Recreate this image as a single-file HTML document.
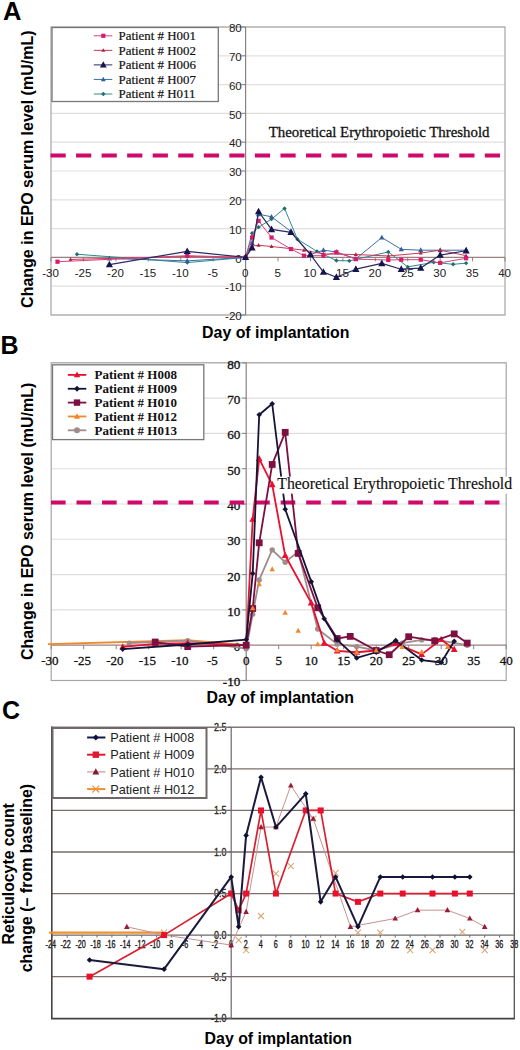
<!DOCTYPE html><html><head><meta charset="utf-8"><style>
html,body{margin:0;padding:0;background:#fff;}body{width:520px;height:1050px;overflow:hidden;}
svg{display:block;}
.sb{font-family:"Liberation Sans",sans-serif;font-weight:bold;}
.s{font-family:"Liberation Sans",sans-serif;}
.r{font-family:"Liberation Serif",serif;}
</style></head><body>
<svg width="520" height="1050" viewBox="0 0 520 1050">
<rect width="520" height="1050" fill="#fff"/>
<line x1="51" y1="315" x2="505" y2="315" stroke="#e4dfdf" stroke-width="1.2"/>
<line x1="51" y1="286.2" x2="505" y2="286.2" stroke="#e4dfdf" stroke-width="1.2"/>
<line x1="51" y1="228.6" x2="505" y2="228.6" stroke="#e4dfdf" stroke-width="1.2"/>
<line x1="51" y1="199.8" x2="505" y2="199.8" stroke="#e4dfdf" stroke-width="1.2"/>
<line x1="51" y1="171" x2="505" y2="171" stroke="#e4dfdf" stroke-width="1.2"/>
<line x1="51" y1="142.2" x2="505" y2="142.2" stroke="#e4dfdf" stroke-width="1.2"/>
<line x1="51" y1="113.4" x2="505" y2="113.4" stroke="#e4dfdf" stroke-width="1.2"/>
<line x1="51" y1="84.6" x2="505" y2="84.6" stroke="#e4dfdf" stroke-width="1.2"/>
<line x1="51" y1="55.8" x2="505" y2="55.8" stroke="#e4dfdf" stroke-width="1.2"/>
<line x1="51" y1="27" x2="505" y2="27" stroke="#e4dfdf" stroke-width="1.2"/>
<rect x="51" y="27" width="454" height="288" fill="none" stroke="#a8a4a4" stroke-width="1.2"/>
<line x1="245.6" y1="27" x2="245.6" y2="315" stroke="#8a8080" stroke-width="1.2"/>
<line x1="51" y1="257.4" x2="505" y2="257.4" stroke="#9a8080" stroke-width="1.2"/>
<line x1="241.6" y1="315" x2="245.6" y2="315" stroke="#8a8080" stroke-width="1"/>
<line x1="241.6" y1="286.2" x2="245.6" y2="286.2" stroke="#8a8080" stroke-width="1"/>
<line x1="241.6" y1="257.4" x2="245.6" y2="257.4" stroke="#8a8080" stroke-width="1"/>
<line x1="241.6" y1="228.6" x2="245.6" y2="228.6" stroke="#8a8080" stroke-width="1"/>
<line x1="241.6" y1="199.8" x2="245.6" y2="199.8" stroke="#8a8080" stroke-width="1"/>
<line x1="241.6" y1="171" x2="245.6" y2="171" stroke="#8a8080" stroke-width="1"/>
<line x1="241.6" y1="142.2" x2="245.6" y2="142.2" stroke="#8a8080" stroke-width="1"/>
<line x1="241.6" y1="113.4" x2="245.6" y2="113.4" stroke="#8a8080" stroke-width="1"/>
<line x1="241.6" y1="84.6" x2="245.6" y2="84.6" stroke="#8a8080" stroke-width="1"/>
<line x1="241.6" y1="55.8" x2="245.6" y2="55.8" stroke="#8a8080" stroke-width="1"/>
<line x1="241.6" y1="27" x2="245.6" y2="27" stroke="#8a8080" stroke-width="1"/>
<line x1="51.02" y1="257.4" x2="51.02" y2="261.4" stroke="#8a8080" stroke-width="1"/>
<line x1="83.45" y1="257.4" x2="83.45" y2="261.4" stroke="#8a8080" stroke-width="1"/>
<line x1="115.88" y1="257.4" x2="115.88" y2="261.4" stroke="#8a8080" stroke-width="1"/>
<line x1="148.31" y1="257.4" x2="148.31" y2="261.4" stroke="#8a8080" stroke-width="1"/>
<line x1="180.74" y1="257.4" x2="180.74" y2="261.4" stroke="#8a8080" stroke-width="1"/>
<line x1="213.17" y1="257.4" x2="213.17" y2="261.4" stroke="#8a8080" stroke-width="1"/>
<line x1="245.6" y1="257.4" x2="245.6" y2="261.4" stroke="#8a8080" stroke-width="1"/>
<line x1="278.03" y1="257.4" x2="278.03" y2="261.4" stroke="#8a8080" stroke-width="1"/>
<line x1="310.46" y1="257.4" x2="310.46" y2="261.4" stroke="#8a8080" stroke-width="1"/>
<line x1="342.89" y1="257.4" x2="342.89" y2="261.4" stroke="#8a8080" stroke-width="1"/>
<line x1="375.32" y1="257.4" x2="375.32" y2="261.4" stroke="#8a8080" stroke-width="1"/>
<line x1="407.75" y1="257.4" x2="407.75" y2="261.4" stroke="#8a8080" stroke-width="1"/>
<line x1="440.18" y1="257.4" x2="440.18" y2="261.4" stroke="#8a8080" stroke-width="1"/>
<line x1="472.61" y1="257.4" x2="472.61" y2="261.4" stroke="#8a8080" stroke-width="1"/>
<line x1="505.04" y1="257.4" x2="505.04" y2="261.4" stroke="#8a8080" stroke-width="1"/>
<text class="s" x="241.8" y="320.1" font-size="11.6" text-anchor="end" fill="#222">-20</text>
<text class="s" x="241.8" y="291.3" font-size="11.6" text-anchor="end" fill="#222">-10</text>
<text class="s" x="241.8" y="262.5" font-size="11.6" text-anchor="end" fill="#222">0</text>
<text class="s" x="241.8" y="233.7" font-size="11.6" text-anchor="end" fill="#222">10</text>
<text class="s" x="241.8" y="204.9" font-size="11.6" text-anchor="end" fill="#222">20</text>
<text class="s" x="241.8" y="176.1" font-size="11.6" text-anchor="end" fill="#222">30</text>
<text class="s" x="241.8" y="147.3" font-size="11.6" text-anchor="end" fill="#222">40</text>
<text class="s" x="241.8" y="118.5" font-size="11.6" text-anchor="end" fill="#222">50</text>
<text class="s" x="241.8" y="89.7" font-size="11.6" text-anchor="end" fill="#222">60</text>
<text class="s" x="241.8" y="60.9" font-size="11.6" text-anchor="end" fill="#222">70</text>
<text class="s" x="241.8" y="32.1" font-size="11.6" text-anchor="end" fill="#222">80</text>
<text class="s" x="50.62" y="276.6" font-size="11.6" text-anchor="middle" fill="#222">-30</text>
<text class="s" x="83.05" y="276.6" font-size="11.6" text-anchor="middle" fill="#222">-25</text>
<text class="s" x="115.48" y="276.6" font-size="11.6" text-anchor="middle" fill="#222">-20</text>
<text class="s" x="147.91" y="276.6" font-size="11.6" text-anchor="middle" fill="#222">-15</text>
<text class="s" x="180.34" y="276.6" font-size="11.6" text-anchor="middle" fill="#222">-10</text>
<text class="s" x="212.77" y="276.6" font-size="11.6" text-anchor="middle" fill="#222">-5</text>
<text class="s" x="245.2" y="276.6" font-size="11.6" text-anchor="middle" fill="#222">0</text>
<text class="s" x="277.63" y="276.6" font-size="11.6" text-anchor="middle" fill="#222">5</text>
<text class="s" x="310.06" y="276.6" font-size="11.6" text-anchor="middle" fill="#222">10</text>
<text class="s" x="342.49" y="276.6" font-size="11.6" text-anchor="middle" fill="#222">15</text>
<text class="s" x="374.92" y="276.6" font-size="11.6" text-anchor="middle" fill="#222">20</text>
<text class="s" x="407.35" y="276.6" font-size="11.6" text-anchor="middle" fill="#222">25</text>
<text class="s" x="439.78" y="276.6" font-size="11.6" text-anchor="middle" fill="#222">30</text>
<text class="s" x="472.21" y="276.6" font-size="11.6" text-anchor="middle" fill="#222">35</text>
<text class="s" x="504.64" y="276.6" font-size="11.6" text-anchor="middle" fill="#222">40</text>
<line x1="50.5" y1="155.6" x2="505" y2="155.6" stroke="#d0086a" stroke-width="4" stroke-dasharray="15.2 10.35"/>
<text class="r" x="268.8" y="137" font-size="14.85" fill="#111" stroke="#111" stroke-width="0.3">Theoretical Erythropoietic Threshold</text>
<path d="M76.96 254.23 L187.23 262.58 L245.6 257.4 L252.09 233.21 L258.57 227.16 L271.54 219.1 L284.52 208.44 L297.49 239.26 L316.95 251.35 L336.4 260.57 L349.38 260.86 L388.29 251.93 L407.75 266.9 L433.69 262.3 L453.15 264.31 L466.12 263.16" fill="none" stroke="#2f8a8f" stroke-width="1.0" stroke-linejoin="round"/><path d="M76.96 252.03L79.16 254.23L76.96 256.43L74.76 254.23Z" fill="#1f6f70"/><path d="M187.23 260.38L189.43 262.58L187.23 264.78L185.03 262.58Z" fill="#1f6f70"/><path d="M245.6 255.2L247.8 257.4L245.6 259.6L243.4 257.4Z" fill="#1f6f70"/><path d="M252.09 231.01L254.29 233.21L252.09 235.41L249.89 233.21Z" fill="#1f6f70"/><path d="M258.57 224.96L260.77 227.16L258.57 229.36L256.37 227.16Z" fill="#1f6f70"/><path d="M271.54 216.9L273.74 219.1L271.54 221.3L269.34 219.1Z" fill="#1f6f70"/><path d="M284.52 206.24L286.72 208.44L284.52 210.64L282.32 208.44Z" fill="#1f6f70"/><path d="M297.49 237.06L299.69 239.26L297.49 241.46L295.29 239.26Z" fill="#1f6f70"/><path d="M316.95 249.15L319.15 251.35L316.95 253.55L314.75 251.35Z" fill="#1f6f70"/><path d="M336.4 258.37L338.6 260.57L336.4 262.77L334.2 260.57Z" fill="#1f6f70"/><path d="M349.38 258.66L351.58 260.86L349.38 263.06L347.18 260.86Z" fill="#1f6f70"/><path d="M388.29 249.73L390.49 251.93L388.29 254.13L386.09 251.93Z" fill="#1f6f70"/><path d="M407.75 264.7L409.95 266.9L407.75 269.1L405.55 266.9Z" fill="#1f6f70"/><path d="M433.69 260.1L435.89 262.3L433.69 264.5L431.49 262.3Z" fill="#1f6f70"/><path d="M453.15 262.11L455.35 264.31L453.15 266.51L450.95 264.31Z" fill="#1f6f70"/><path d="M466.12 260.96L468.32 263.16L466.12 265.36L463.92 263.16Z" fill="#1f6f70"/>
<path d="M109.39 258.55 L187.23 260.86 L245.6 257.4 L252.09 243 L258.57 214.2 L271.54 216.79 L291 231.48 L310.46 254.52 L323.43 250.2 L336.4 251.93 L355.86 258.84 L381.81 237.53 L401.26 249.34 L420.72 250.2 L440.18 250.2 L466.12 250.2" fill="none" stroke="#3b6ea6" stroke-width="1.0" stroke-linejoin="round"/><path d="M109.39 255.69L111.99 260.5L106.79 260.5Z" fill="#2f5f98"/><path d="M187.23 258L189.83 262.81L184.63 262.81Z" fill="#2f5f98"/><path d="M245.6 254.54L248.2 259.35L243 259.35Z" fill="#2f5f98"/><path d="M252.09 240.14L254.69 244.95L249.49 244.95Z" fill="#2f5f98"/><path d="M258.57 211.34L261.17 216.15L255.97 216.15Z" fill="#2f5f98"/><path d="M271.54 213.93L274.14 218.74L268.94 218.74Z" fill="#2f5f98"/><path d="M291 228.62L293.6 233.43L288.4 233.43Z" fill="#2f5f98"/><path d="M310.46 251.66L313.06 256.47L307.86 256.47Z" fill="#2f5f98"/><path d="M323.43 247.34L326.03 252.15L320.83 252.15Z" fill="#2f5f98"/><path d="M336.4 249.07L339 253.88L333.8 253.88Z" fill="#2f5f98"/><path d="M355.86 255.98L358.46 260.79L353.26 260.79Z" fill="#2f5f98"/><path d="M381.81 234.67L384.41 239.48L379.21 239.48Z" fill="#2f5f98"/><path d="M401.26 246.48L403.86 251.29L398.66 251.29Z" fill="#2f5f98"/><path d="M420.72 247.34L423.32 252.15L418.12 252.15Z" fill="#2f5f98"/><path d="M440.18 247.34L442.78 252.15L437.58 252.15Z" fill="#2f5f98"/><path d="M466.12 247.34L468.72 252.15L463.52 252.15Z" fill="#2f5f98"/>
<path d="M70.48 259.42 L187.23 256.54 L245.6 257.4 L252.09 245.88 L258.57 245.3 L271.54 246.46 L303.97 250.2 L323.43 253.94 L355.86 254.52 L388.29 255.96 L420.72 253.08 L440.18 250.2 L466.12 255.67" fill="none" stroke="#c8385a" stroke-width="1.0" stroke-linejoin="round"/><path d="M70.48 257.22L72.48 260.92L68.48 260.92Z" fill="#b02040"/><path d="M187.23 254.34L189.23 258.04L185.23 258.04Z" fill="#b02040"/><path d="M245.6 255.2L247.6 258.9L243.6 258.9Z" fill="#b02040"/><path d="M252.09 243.68L254.09 247.38L250.09 247.38Z" fill="#b02040"/><path d="M258.57 243.1L260.57 246.8L256.57 246.8Z" fill="#b02040"/><path d="M271.54 244.26L273.54 247.96L269.54 247.96Z" fill="#b02040"/><path d="M303.97 248L305.97 251.7L301.97 251.7Z" fill="#b02040"/><path d="M323.43 251.74L325.43 255.44L321.43 255.44Z" fill="#b02040"/><path d="M355.86 252.32L357.86 256.02L353.86 256.02Z" fill="#b02040"/><path d="M388.29 253.76L390.29 257.46L386.29 257.46Z" fill="#b02040"/><path d="M420.72 250.88L422.72 254.58L418.72 254.58Z" fill="#b02040"/><path d="M440.18 248L442.18 251.7L438.18 251.7Z" fill="#b02040"/><path d="M466.12 253.47L468.12 257.17L464.12 257.17Z" fill="#b02040"/>
<path d="M57.51 261.72 L187.23 255.67 L245.6 257.4 L252.09 237.53 L258.57 220.82 L271.54 237.53 L291 249.05 L303.97 255.67 L323.43 255.67 L336.4 252.22 L355.86 259.13 L388.29 259.99 L401.26 259.7 L420.72 259.7 L440.18 262.87 L466.12 258.26" fill="none" stroke="#d8407e" stroke-width="1.0" stroke-linejoin="round"/><rect x="55.41" y="259.62" width="4.2" height="4.2" fill="#d81b6a"/><rect x="185.13" y="253.57" width="4.2" height="4.2" fill="#d81b6a"/><rect x="243.5" y="255.3" width="4.2" height="4.2" fill="#d81b6a"/><rect x="249.99" y="235.43" width="4.2" height="4.2" fill="#d81b6a"/><rect x="256.47" y="218.72" width="4.2" height="4.2" fill="#d81b6a"/><rect x="269.44" y="235.43" width="4.2" height="4.2" fill="#d81b6a"/><rect x="288.9" y="246.95" width="4.2" height="4.2" fill="#d81b6a"/><rect x="301.87" y="253.57" width="4.2" height="4.2" fill="#d81b6a"/><rect x="321.33" y="253.57" width="4.2" height="4.2" fill="#d81b6a"/><rect x="334.3" y="250.12" width="4.2" height="4.2" fill="#d81b6a"/><rect x="353.76" y="257.03" width="4.2" height="4.2" fill="#d81b6a"/><rect x="386.19" y="257.89" width="4.2" height="4.2" fill="#d81b6a"/><rect x="399.16" y="257.6" width="4.2" height="4.2" fill="#d81b6a"/><rect x="418.62" y="257.6" width="4.2" height="4.2" fill="#d81b6a"/><rect x="438.08" y="260.77" width="4.2" height="4.2" fill="#d81b6a"/><rect x="464.02" y="256.16" width="4.2" height="4.2" fill="#d81b6a"/>
<path d="M109.39 264.6 L187.23 251.35 L245.6 257.4 L252.09 247.9 L258.57 211.61 L271.54 229.46 L291 232.34 L310.46 254.52 L323.43 272.09 L336.4 277.27 L355.86 269.21 L381.81 263.45 L401.26 269.21 L420.72 268.06 L440.18 255.1 L466.12 250.78" fill="none" stroke="#2a2a60" stroke-width="1.2" stroke-linejoin="round"/><path d="M109.39 260.64L112.99 267.3L105.79 267.3Z" fill="#141450"/><path d="M187.23 247.39L190.83 254.05L183.63 254.05Z" fill="#141450"/><path d="M245.6 253.44L249.2 260.1L242 260.1Z" fill="#141450"/><path d="M252.09 243.94L255.69 250.6L248.49 250.6Z" fill="#141450"/><path d="M258.57 207.65L262.17 214.31L254.97 214.31Z" fill="#141450"/><path d="M271.54 225.5L275.14 232.16L267.94 232.16Z" fill="#141450"/><path d="M291 228.38L294.6 235.04L287.4 235.04Z" fill="#141450"/><path d="M310.46 250.56L314.06 257.22L306.86 257.22Z" fill="#141450"/><path d="M323.43 268.13L327.03 274.79L319.83 274.79Z" fill="#141450"/><path d="M336.4 273.31L340 279.97L332.8 279.97Z" fill="#141450"/><path d="M355.86 265.25L359.46 271.91L352.26 271.91Z" fill="#141450"/><path d="M381.81 259.49L385.41 266.15L378.21 266.15Z" fill="#141450"/><path d="M401.26 265.25L404.86 271.91L397.66 271.91Z" fill="#141450"/><path d="M420.72 264.1L424.32 270.76L417.12 270.76Z" fill="#141450"/><path d="M440.18 251.14L443.78 257.8L436.58 257.8Z" fill="#141450"/><path d="M466.12 246.82L469.72 253.48L462.52 253.48Z" fill="#141450"/>
<rect x="52" y="27.5" width="166.3" height="74" fill="#fff" stroke="#777" stroke-width="1.3"/>
<line x1="93.8" y1="35.8" x2="112.3" y2="35.8" stroke="#d8407e" stroke-width="1"/>
<rect x="101.2" y="33.7" width="4.2" height="4.2" fill="#d81b6a"/>
<text class="r" x="118.5" y="40.1" font-size="12.9" fill="#111" stroke="#111" stroke-width="0.2">Patient # H001</text>
<line x1="93.8" y1="50.35" x2="112.3" y2="50.35" stroke="#c8385a" stroke-width="1"/>
<path d="M103.3 48.15L105.3 51.85L101.3 51.85Z" fill="#b02040"/>
<text class="r" x="118.5" y="54.65" font-size="12.9" fill="#111" stroke="#111" stroke-width="0.2">Patient # H002</text>
<line x1="93.8" y1="64.9" x2="112.3" y2="64.9" stroke="#2a2a60" stroke-width="1"/>
<path d="M103.3 61.16L106.7 67.45L99.9 67.45Z" fill="#141450"/>
<text class="r" x="118.5" y="69.2" font-size="12.9" fill="#111" stroke="#111" stroke-width="0.2">Patient # H006</text>
<line x1="93.8" y1="79.45" x2="112.3" y2="79.45" stroke="#3b6ea6" stroke-width="1"/>
<path d="M103.3 76.81L105.7 81.25L100.9 81.25Z" fill="#2f5f98"/>
<text class="r" x="118.5" y="83.75" font-size="12.9" fill="#111" stroke="#111" stroke-width="0.2">Patient # H007</text>
<line x1="93.8" y1="94" x2="112.3" y2="94" stroke="#2f8a8f" stroke-width="1"/>
<path d="M103.3 91.8L105.5 94L103.3 96.2L101.1 94Z" fill="#1f6f70"/>
<text class="r" x="118.5" y="98.3" font-size="12.9" fill="#111" stroke="#111" stroke-width="0.2">Patient # H011</text>
<text class="sb" x="2.9" y="19.6" font-size="25.5" fill="#000">A</text>
<text class="sb" font-size="16" fill="#000" text-anchor="middle" transform="translate(32.7 169.2) rotate(-90)">Change in EPO serum level (mU/mL)</text>
<text class="sb" x="202.1" y="338.3" font-size="15.9" fill="#000">Day of implantation</text>
<line x1="51.2" y1="680.5" x2="506.2" y2="680.5" stroke="#e2dddd" stroke-width="1.1"/>
<line x1="51.2" y1="609.9" x2="506.2" y2="609.9" stroke="#e2dddd" stroke-width="1.1"/>
<line x1="51.2" y1="574.6" x2="506.2" y2="574.6" stroke="#e2dddd" stroke-width="1.1"/>
<line x1="51.2" y1="539.3" x2="506.2" y2="539.3" stroke="#e2dddd" stroke-width="1.1"/>
<line x1="51.2" y1="504" x2="506.2" y2="504" stroke="#e2dddd" stroke-width="1.1"/>
<line x1="51.2" y1="468.7" x2="506.2" y2="468.7" stroke="#e2dddd" stroke-width="1.1"/>
<line x1="51.2" y1="433.4" x2="506.2" y2="433.4" stroke="#e2dddd" stroke-width="1.1"/>
<line x1="51.2" y1="398.1" x2="506.2" y2="398.1" stroke="#e2dddd" stroke-width="1.1"/>
<line x1="51.2" y1="362.8" x2="506.2" y2="362.8" stroke="#e2dddd" stroke-width="1.1"/>
<rect x="51.2" y="362.8" width="455" height="317.7" fill="none" stroke="#a8a4a4" stroke-width="1.2"/>
<line x1="246.2" y1="362.8" x2="246.2" y2="680.5" stroke="#8a8080" stroke-width="1.2"/>
<line x1="51.2" y1="645.2" x2="506.2" y2="645.2" stroke="#9a8080" stroke-width="1.2"/>
<line x1="242.2" y1="680.5" x2="246.2" y2="680.5" stroke="#8a8080" stroke-width="1"/>
<line x1="242.2" y1="645.2" x2="246.2" y2="645.2" stroke="#8a8080" stroke-width="1"/>
<line x1="242.2" y1="609.9" x2="246.2" y2="609.9" stroke="#8a8080" stroke-width="1"/>
<line x1="242.2" y1="574.6" x2="246.2" y2="574.6" stroke="#8a8080" stroke-width="1"/>
<line x1="242.2" y1="539.3" x2="246.2" y2="539.3" stroke="#8a8080" stroke-width="1"/>
<line x1="242.2" y1="504" x2="246.2" y2="504" stroke="#8a8080" stroke-width="1"/>
<line x1="242.2" y1="468.7" x2="246.2" y2="468.7" stroke="#8a8080" stroke-width="1"/>
<line x1="242.2" y1="433.4" x2="246.2" y2="433.4" stroke="#8a8080" stroke-width="1"/>
<line x1="242.2" y1="398.1" x2="246.2" y2="398.1" stroke="#8a8080" stroke-width="1"/>
<line x1="242.2" y1="362.8" x2="246.2" y2="362.8" stroke="#8a8080" stroke-width="1"/>
<line x1="51.2" y1="645.2" x2="51.2" y2="649.2" stroke="#8a8080" stroke-width="1"/>
<line x1="83.7" y1="645.2" x2="83.7" y2="649.2" stroke="#8a8080" stroke-width="1"/>
<line x1="116.2" y1="645.2" x2="116.2" y2="649.2" stroke="#8a8080" stroke-width="1"/>
<line x1="148.7" y1="645.2" x2="148.7" y2="649.2" stroke="#8a8080" stroke-width="1"/>
<line x1="181.2" y1="645.2" x2="181.2" y2="649.2" stroke="#8a8080" stroke-width="1"/>
<line x1="213.7" y1="645.2" x2="213.7" y2="649.2" stroke="#8a8080" stroke-width="1"/>
<line x1="246.2" y1="645.2" x2="246.2" y2="649.2" stroke="#8a8080" stroke-width="1"/>
<line x1="278.7" y1="645.2" x2="278.7" y2="649.2" stroke="#8a8080" stroke-width="1"/>
<line x1="311.2" y1="645.2" x2="311.2" y2="649.2" stroke="#8a8080" stroke-width="1"/>
<line x1="343.7" y1="645.2" x2="343.7" y2="649.2" stroke="#8a8080" stroke-width="1"/>
<line x1="376.2" y1="645.2" x2="376.2" y2="649.2" stroke="#8a8080" stroke-width="1"/>
<line x1="408.7" y1="645.2" x2="408.7" y2="649.2" stroke="#8a8080" stroke-width="1"/>
<line x1="441.2" y1="645.2" x2="441.2" y2="649.2" stroke="#8a8080" stroke-width="1"/>
<line x1="473.7" y1="645.2" x2="473.7" y2="649.2" stroke="#8a8080" stroke-width="1"/>
<line x1="506.2" y1="645.2" x2="506.2" y2="649.2" stroke="#8a8080" stroke-width="1"/>
<text class="r" x="240.4" y="686.4" font-size="13.2" text-anchor="end" fill="#111" stroke="#111" stroke-width="0.3">-10</text>
<text class="r" x="240.4" y="651.1" font-size="13.2" text-anchor="end" fill="#111" stroke="#111" stroke-width="0.3">0</text>
<text class="r" x="240.4" y="615.8" font-size="13.2" text-anchor="end" fill="#111" stroke="#111" stroke-width="0.3">10</text>
<text class="r" x="240.4" y="580.5" font-size="13.2" text-anchor="end" fill="#111" stroke="#111" stroke-width="0.3">20</text>
<text class="r" x="240.4" y="545.2" font-size="13.2" text-anchor="end" fill="#111" stroke="#111" stroke-width="0.3">30</text>
<text class="r" x="240.4" y="509.9" font-size="13.2" text-anchor="end" fill="#111" stroke="#111" stroke-width="0.3">40</text>
<text class="r" x="240.4" y="474.6" font-size="13.2" text-anchor="end" fill="#111" stroke="#111" stroke-width="0.3">50</text>
<text class="r" x="240.4" y="439.3" font-size="13.2" text-anchor="end" fill="#111" stroke="#111" stroke-width="0.3">60</text>
<text class="r" x="240.4" y="404" font-size="13.2" text-anchor="end" fill="#111" stroke="#111" stroke-width="0.3">70</text>
<text class="r" x="240.4" y="368.7" font-size="13.2" text-anchor="end" fill="#111" stroke="#111" stroke-width="0.3">80</text>
<text class="r" x="49.9" y="664.6" font-size="13" text-anchor="middle" fill="#111" stroke="#111" stroke-width="0.3">-30</text>
<text class="r" x="82.4" y="664.6" font-size="13" text-anchor="middle" fill="#111" stroke="#111" stroke-width="0.3">-25</text>
<text class="r" x="114.9" y="664.6" font-size="13" text-anchor="middle" fill="#111" stroke="#111" stroke-width="0.3">-20</text>
<text class="r" x="147.4" y="664.6" font-size="13" text-anchor="middle" fill="#111" stroke="#111" stroke-width="0.3">-15</text>
<text class="r" x="179.9" y="664.6" font-size="13" text-anchor="middle" fill="#111" stroke="#111" stroke-width="0.3">-10</text>
<text class="r" x="212.4" y="664.6" font-size="13" text-anchor="middle" fill="#111" stroke="#111" stroke-width="0.3">-5</text>
<text class="r" x="246.2" y="664.6" font-size="13" text-anchor="middle" fill="#111" stroke="#111" stroke-width="0.3">0</text>
<text class="r" x="278.7" y="664.6" font-size="13" text-anchor="middle" fill="#111" stroke="#111" stroke-width="0.3">5</text>
<text class="r" x="311.2" y="664.6" font-size="13" text-anchor="middle" fill="#111" stroke="#111" stroke-width="0.3">10</text>
<text class="r" x="343.7" y="664.6" font-size="13" text-anchor="middle" fill="#111" stroke="#111" stroke-width="0.3">15</text>
<text class="r" x="376.2" y="664.6" font-size="13" text-anchor="middle" fill="#111" stroke="#111" stroke-width="0.3">20</text>
<text class="r" x="408.7" y="664.6" font-size="13" text-anchor="middle" fill="#111" stroke="#111" stroke-width="0.3">25</text>
<text class="r" x="441.2" y="664.6" font-size="13" text-anchor="middle" fill="#111" stroke="#111" stroke-width="0.3">30</text>
<text class="r" x="473.7" y="664.6" font-size="13" text-anchor="middle" fill="#111" stroke="#111" stroke-width="0.3">35</text>
<text class="r" x="506.2" y="664.6" font-size="13" text-anchor="middle" fill="#111" stroke="#111" stroke-width="0.3">40</text>
<line x1="51" y1="502.5" x2="506.2" y2="502.5" stroke="#d0086a" stroke-width="4" stroke-dasharray="14.6 10.92"/>
<path d="M47.95 644.14 L187.7 640.26 L246.2 645.2" fill="none" stroke="#f0882a" stroke-width="1.8"/>
<path d="M129.2 643.08 L155.2 642.02 L187.7 640.61 L246.2 648.73 L252.7 614.14 L259.2 579.9 L272.2 549.89 L285.2 562.25 L298.2 551.66 L317.7 628.96 L337.2 644.14 L356.7 646.61 L376.2 650.5 L402.2 643.08 L421.7 639.91 L434.7 639.55 L467.2 645.2" fill="none" stroke="#a08c8c" stroke-width="1.8" stroke-linejoin="round"/><circle cx="129.2" cy="643.08" r="2.7" fill="#a08c8c"/><circle cx="155.2" cy="642.02" r="2.7" fill="#a08c8c"/><circle cx="187.7" cy="640.61" r="2.7" fill="#a08c8c"/><circle cx="246.2" cy="648.73" r="2.7" fill="#a08c8c"/><circle cx="252.7" cy="614.14" r="2.7" fill="#a08c8c"/><circle cx="259.2" cy="579.9" r="2.7" fill="#a08c8c"/><circle cx="272.2" cy="549.89" r="2.7" fill="#a08c8c"/><circle cx="285.2" cy="562.25" r="2.7" fill="#a08c8c"/><circle cx="298.2" cy="551.66" r="2.7" fill="#a08c8c"/><circle cx="317.7" cy="628.96" r="2.7" fill="#a08c8c"/><circle cx="337.2" cy="644.14" r="2.7" fill="#a08c8c"/><circle cx="356.7" cy="646.61" r="2.7" fill="#a08c8c"/><circle cx="376.2" cy="650.5" r="2.7" fill="#a08c8c"/><circle cx="402.2" cy="643.08" r="2.7" fill="#a08c8c"/><circle cx="421.7" cy="639.91" r="2.7" fill="#a08c8c"/><circle cx="434.7" cy="639.55" r="2.7" fill="#a08c8c"/><circle cx="467.2" cy="645.2" r="2.7" fill="#a08c8c"/>
<path d="M122.7 646.97 L155.2 643.79 L187.7 643.08 L246.2 645.2 L252.7 519.18 L259.2 458.82 L272.2 484.59 L285.2 555.54 L311.2 602.84 L324.2 643.08 L337.2 650.85 L356.7 652.26 L376.2 650.5 L395.7 643.44 L421.7 654.38 L441.2 639.55 L454.2 649.44" fill="none" stroke="#e8102e" stroke-width="1.8" stroke-linejoin="round"/><path d="M122.7 643.23L126.1 649.51L119.3 649.51Z" fill="#e8102e"/><path d="M155.2 640.05L158.6 646.34L151.8 646.34Z" fill="#e8102e"/><path d="M187.7 639.34L191.1 645.63L184.3 645.63Z" fill="#e8102e"/><path d="M246.2 641.46L249.6 647.75L242.8 647.75Z" fill="#e8102e"/><path d="M252.7 515.44L256.1 521.73L249.3 521.73Z" fill="#e8102e"/><path d="M259.2 455.08L262.6 461.37L255.8 461.37Z" fill="#e8102e"/><path d="M272.2 480.85L275.6 487.14L268.8 487.14Z" fill="#e8102e"/><path d="M285.2 551.8L288.6 558.09L281.8 558.09Z" fill="#e8102e"/><path d="M311.2 599.1L314.6 605.39L307.8 605.39Z" fill="#e8102e"/><path d="M324.2 639.34L327.6 645.63L320.8 645.63Z" fill="#e8102e"/><path d="M337.2 647.11L340.6 653.4L333.8 653.4Z" fill="#e8102e"/><path d="M356.7 648.52L360.1 654.81L353.3 654.81Z" fill="#e8102e"/><path d="M376.2 646.75L379.6 653.04L372.8 653.04Z" fill="#e8102e"/><path d="M395.7 639.7L399.1 645.99L392.3 645.99Z" fill="#e8102e"/><path d="M421.7 650.64L425.1 656.93L418.3 656.93Z" fill="#e8102e"/><path d="M441.2 635.81L444.6 642.1L437.8 642.1Z" fill="#e8102e"/><path d="M454.2 645.7L457.6 651.99L450.8 651.99Z" fill="#e8102e"/>
<path d="M155.2 642.02 L187.7 646.61 L246.2 645.2 L252.7 608.49 L259.2 542.83 L272.2 464.46 L285.2 432.34 L298.2 553.42 L317.7 607.78 L337.2 638.49 L350.2 636.38 L376.2 650.5 L389.2 654.73 L408.7 636.73 L434.7 640.96 L454.2 633.9 L467.2 643.08" fill="none" stroke="#7c1040" stroke-width="1.8" stroke-linejoin="round"/><rect x="151.8" y="638.62" width="6.8" height="6.8" fill="#7c1040"/><rect x="184.3" y="643.21" width="6.8" height="6.8" fill="#7c1040"/><rect x="242.8" y="641.8" width="6.8" height="6.8" fill="#7c1040"/><rect x="249.3" y="605.09" width="6.8" height="6.8" fill="#7c1040"/><rect x="255.8" y="539.43" width="6.8" height="6.8" fill="#7c1040"/><rect x="268.8" y="461.06" width="6.8" height="6.8" fill="#7c1040"/><rect x="281.8" y="428.94" width="6.8" height="6.8" fill="#7c1040"/><rect x="294.8" y="550.02" width="6.8" height="6.8" fill="#7c1040"/><rect x="314.3" y="604.38" width="6.8" height="6.8" fill="#7c1040"/><rect x="333.8" y="635.09" width="6.8" height="6.8" fill="#7c1040"/><rect x="346.8" y="632.98" width="6.8" height="6.8" fill="#7c1040"/><rect x="372.8" y="647.1" width="6.8" height="6.8" fill="#7c1040"/><rect x="385.8" y="651.33" width="6.8" height="6.8" fill="#7c1040"/><rect x="405.3" y="633.33" width="6.8" height="6.8" fill="#7c1040"/><rect x="431.3" y="637.56" width="6.8" height="6.8" fill="#7c1040"/><rect x="450.8" y="630.5" width="6.8" height="6.8" fill="#7c1040"/><rect x="463.8" y="639.68" width="6.8" height="6.8" fill="#7c1040"/>
<path d="M122.7 649.08 L187.7 644.49 L246.2 639.55 L252.7 573.54 L259.2 414.69 L272.2 403.75 L285.2 509.3 L311.2 581.66 L324.2 618.73 L337.2 639.91 L356.7 657.91 L376.2 652.26 L395.7 640.61 L421.7 660.03 L441.2 662.5 L454.2 641.32" fill="none" stroke="#141438" stroke-width="1.8" stroke-linejoin="round"/><path d="M122.7 646.28L125.5 649.08L122.7 651.88L119.9 649.08Z" fill="#141438"/><path d="M187.7 641.69L190.5 644.49L187.7 647.29L184.9 644.49Z" fill="#141438"/><path d="M246.2 636.75L249 639.55L246.2 642.35L243.4 639.55Z" fill="#141438"/><path d="M252.7 570.74L255.5 573.54L252.7 576.34L249.9 573.54Z" fill="#141438"/><path d="M259.2 411.89L262 414.69L259.2 417.49L256.4 414.69Z" fill="#141438"/><path d="M272.2 400.95L275 403.75L272.2 406.55L269.4 403.75Z" fill="#141438"/><path d="M285.2 506.5L288 509.3L285.2 512.1L282.4 509.3Z" fill="#141438"/><path d="M311.2 578.86L314 581.66L311.2 584.46L308.4 581.66Z" fill="#141438"/><path d="M324.2 615.93L327 618.73L324.2 621.52L321.4 618.73Z" fill="#141438"/><path d="M337.2 637.11L340 639.91L337.2 642.71L334.4 639.91Z" fill="#141438"/><path d="M356.7 655.11L359.5 657.91L356.7 660.71L353.9 657.91Z" fill="#141438"/><path d="M376.2 649.46L379 652.26L376.2 655.06L373.4 652.26Z" fill="#141438"/><path d="M395.7 637.81L398.5 640.61L395.7 643.41L392.9 640.61Z" fill="#141438"/><path d="M421.7 657.23L424.5 660.03L421.7 662.83L418.9 660.03Z" fill="#141438"/><path d="M441.2 659.7L444 662.5L441.2 665.3L438.4 662.5Z" fill="#141438"/><path d="M454.2 638.52L457 641.32L454.2 644.12L451.4 641.32Z" fill="#141438"/>
<path d="M252.7 605.16L255.4 610.16L250 610.16Z" fill="#f0882a"/><path d="M259.2 581.16L261.9 586.16L256.5 586.16Z" fill="#f0882a"/><path d="M272.2 566.34L274.9 571.33L269.5 571.33Z" fill="#f0882a"/><path d="M285.2 609.75L287.9 614.75L282.5 614.75Z" fill="#f0882a"/><path d="M298.2 627.76L300.9 632.75L295.5 632.75Z" fill="#f0882a"/><path d="M317.7 641.17L320.4 646.17L315 646.17Z" fill="#f0882a"/><path d="M337.2 647.17L339.9 652.17L334.5 652.17Z" fill="#f0882a"/><path d="M356.7 649.29L359.4 654.28L354 654.28Z" fill="#f0882a"/><path d="M376.2 647.52L378.9 652.52L373.5 652.52Z" fill="#f0882a"/><path d="M402.2 644L404.9 648.99L399.5 648.99Z" fill="#f0882a"/><path d="M421.7 648.94L424.4 653.93L419 653.93Z" fill="#f0882a"/><path d="M447.7 644L450.4 648.99L445 648.99Z" fill="#f0882a"/>
<rect x="276" y="476.6" width="238" height="17" fill="#fff"/>
<text class="r" x="277.3" y="488.9" font-size="15.8" fill="#111" stroke="#111" stroke-width="0.15">Theoretical Erythropoietic Threshold</text>
<rect x="52.5" y="364.8" width="151.3" height="74.8" fill="#fff" stroke="#777" stroke-width="1.3"/>
<line x1="67.8" y1="374.9" x2="86.3" y2="374.9" stroke="#e8102e" stroke-width="1.8"/>
<path d="M77 371.38L80.2 377.3L73.8 377.3Z" fill="#e8102e"/>
<text class="r" x="94.6" y="379.3" font-size="13" font-weight="bold" fill="#111">Patient # H008</text>
<line x1="67.8" y1="388.75" x2="86.3" y2="388.75" stroke="#141438" stroke-width="1.8"/>
<path d="M77 385.75L80 388.75L77 391.75L74 388.75Z" fill="#141438"/>
<text class="r" x="94.6" y="393.15" font-size="13" font-weight="bold" fill="#111">Patient # H009</text>
<line x1="67.8" y1="402.6" x2="86.3" y2="402.6" stroke="#7c1040" stroke-width="1.8"/>
<rect x="73.8" y="399.4" width="6.4" height="6.4" fill="#7c1040"/>
<text class="r" x="94.6" y="407" font-size="13" font-weight="bold" fill="#111">Patient # H010</text>
<line x1="67.8" y1="416.45" x2="86.3" y2="416.45" stroke="#f0882a" stroke-width="1.8"/>
<path d="M77 413.15L80 418.7L74 418.7Z" fill="#f0882a"/>
<text class="r" x="94.6" y="420.85" font-size="13" font-weight="bold" fill="#111">Patient # H012</text>
<line x1="67.8" y1="430.3" x2="86.3" y2="430.3" stroke="#a08c8c" stroke-width="1.8"/>
<circle cx="77" cy="430.3" r="3" fill="#a08c8c"/>
<text class="r" x="94.6" y="434.7" font-size="13" font-weight="bold" fill="#111">Patient # H013</text>
<text class="sb" x="0.6" y="353.7" font-size="25" fill="#000">B</text>
<text class="sb" font-size="16" fill="#000" text-anchor="middle" transform="translate(33.3 521.4) rotate(-90)">Change in EPO serum level (mU/mL)</text>
<text class="sb" x="206.6" y="702.7" font-size="15.9" fill="#000">Day of implantation</text>
<text class="s" font-size="10.4" text-anchor="end" fill="#222" stroke="#222" stroke-width="0.3" transform="translate(226.4 731.25) scale(0.86 1)">2.5</text>
<text class="s" font-size="10.4" text-anchor="end" fill="#222" stroke="#222" stroke-width="0.3" transform="translate(226.4 772.8) scale(0.86 1)">2.0</text>
<text class="s" font-size="10.4" text-anchor="end" fill="#222" stroke="#222" stroke-width="0.3" transform="translate(226.4 814.35) scale(0.86 1)">1.5</text>
<text class="s" font-size="10.4" text-anchor="end" fill="#222" stroke="#222" stroke-width="0.3" transform="translate(226.4 855.9) scale(0.86 1)">1.0</text>
<text class="s" font-size="10.4" text-anchor="end" fill="#222" stroke="#222" stroke-width="0.3" transform="translate(226.4 897.45) scale(0.86 1)">0.5</text>
<text class="s" font-size="10.4" text-anchor="end" fill="#222" stroke="#222" stroke-width="0.3" transform="translate(226.4 939) scale(0.86 1)">0.0</text>
<text class="s" font-size="10.4" text-anchor="end" fill="#222" stroke="#222" stroke-width="0.3" transform="translate(226.4 980.55) scale(0.86 1)">-0.5</text>
<text class="s" font-size="10.4" text-anchor="end" fill="#222" stroke="#222" stroke-width="0.3" transform="translate(226.4 1022.1) scale(0.86 1)">-1.0</text>
<text class="s" font-size="10" text-anchor="middle" fill="#1a1a1a" stroke="#1a1a1a" stroke-width="0.35" transform="translate(50.76 947.8) scale(0.72 1)">-24</text>
<text class="s" font-size="10" text-anchor="middle" fill="#1a1a1a" stroke="#1a1a1a" stroke-width="0.35" transform="translate(65.67 947.8) scale(0.72 1)">-22</text>
<text class="s" font-size="10" text-anchor="middle" fill="#1a1a1a" stroke="#1a1a1a" stroke-width="0.35" transform="translate(80.58 947.8) scale(0.72 1)">-20</text>
<text class="s" font-size="10" text-anchor="middle" fill="#1a1a1a" stroke="#1a1a1a" stroke-width="0.35" transform="translate(95.49 947.8) scale(0.72 1)">-18</text>
<text class="s" font-size="10" text-anchor="middle" fill="#1a1a1a" stroke="#1a1a1a" stroke-width="0.35" transform="translate(110.4 947.8) scale(0.72 1)">-16</text>
<text class="s" font-size="10" text-anchor="middle" fill="#1a1a1a" stroke="#1a1a1a" stroke-width="0.35" transform="translate(125.32 947.8) scale(0.72 1)">-14</text>
<text class="s" font-size="10" text-anchor="middle" fill="#1a1a1a" stroke="#1a1a1a" stroke-width="0.35" transform="translate(140.23 947.8) scale(0.72 1)">-12</text>
<text class="s" font-size="10" text-anchor="middle" fill="#1a1a1a" stroke="#1a1a1a" stroke-width="0.35" transform="translate(155.14 947.8) scale(0.72 1)">-10</text>
<text class="s" font-size="10" text-anchor="middle" fill="#1a1a1a" stroke="#1a1a1a" stroke-width="0.35" transform="translate(170.05 947.8) scale(0.72 1)">-8</text>
<text class="s" font-size="10" text-anchor="middle" fill="#1a1a1a" stroke="#1a1a1a" stroke-width="0.35" transform="translate(184.96 947.8) scale(0.72 1)">-6</text>
<text class="s" font-size="10" text-anchor="middle" fill="#1a1a1a" stroke="#1a1a1a" stroke-width="0.35" transform="translate(199.88 947.8) scale(0.72 1)">-4</text>
<text class="s" font-size="10" text-anchor="middle" fill="#1a1a1a" stroke="#1a1a1a" stroke-width="0.35" transform="translate(214.79 947.8) scale(0.72 1)">-2</text>
<text class="s" font-size="10" text-anchor="middle" fill="#1a1a1a" stroke="#1a1a1a" stroke-width="0.35" transform="translate(230.9 947.8) scale(0.72 1)">0</text>
<text class="s" font-size="10" text-anchor="middle" fill="#1a1a1a" stroke="#1a1a1a" stroke-width="0.35" transform="translate(245.81 947.8) scale(0.72 1)">2</text>
<text class="s" font-size="10" text-anchor="middle" fill="#1a1a1a" stroke="#1a1a1a" stroke-width="0.35" transform="translate(260.72 947.8) scale(0.72 1)">4</text>
<text class="s" font-size="10" text-anchor="middle" fill="#1a1a1a" stroke="#1a1a1a" stroke-width="0.35" transform="translate(275.64 947.8) scale(0.72 1)">6</text>
<text class="s" font-size="10" text-anchor="middle" fill="#1a1a1a" stroke="#1a1a1a" stroke-width="0.35" transform="translate(290.55 947.8) scale(0.72 1)">8</text>
<text class="s" font-size="10" text-anchor="middle" fill="#1a1a1a" stroke="#1a1a1a" stroke-width="0.35" transform="translate(305.46 947.8) scale(0.72 1)">10</text>
<text class="s" font-size="10" text-anchor="middle" fill="#1a1a1a" stroke="#1a1a1a" stroke-width="0.35" transform="translate(320.37 947.8) scale(0.72 1)">12</text>
<text class="s" font-size="10" text-anchor="middle" fill="#1a1a1a" stroke="#1a1a1a" stroke-width="0.35" transform="translate(335.28 947.8) scale(0.72 1)">14</text>
<text class="s" font-size="10" text-anchor="middle" fill="#1a1a1a" stroke="#1a1a1a" stroke-width="0.35" transform="translate(350.2 947.8) scale(0.72 1)">16</text>
<text class="s" font-size="10" text-anchor="middle" fill="#1a1a1a" stroke="#1a1a1a" stroke-width="0.35" transform="translate(365.11 947.8) scale(0.72 1)">18</text>
<text class="s" font-size="10" text-anchor="middle" fill="#1a1a1a" stroke="#1a1a1a" stroke-width="0.35" transform="translate(380.02 947.8) scale(0.72 1)">20</text>
<text class="s" font-size="10" text-anchor="middle" fill="#1a1a1a" stroke="#1a1a1a" stroke-width="0.35" transform="translate(394.93 947.8) scale(0.72 1)">22</text>
<text class="s" font-size="10" text-anchor="middle" fill="#1a1a1a" stroke="#1a1a1a" stroke-width="0.35" transform="translate(409.84 947.8) scale(0.72 1)">24</text>
<text class="s" font-size="10" text-anchor="middle" fill="#1a1a1a" stroke="#1a1a1a" stroke-width="0.35" transform="translate(424.76 947.8) scale(0.72 1)">26</text>
<text class="s" font-size="10" text-anchor="middle" fill="#1a1a1a" stroke="#1a1a1a" stroke-width="0.35" transform="translate(439.67 947.8) scale(0.72 1)">28</text>
<text class="s" font-size="10" text-anchor="middle" fill="#1a1a1a" stroke="#1a1a1a" stroke-width="0.35" transform="translate(454.58 947.8) scale(0.72 1)">30</text>
<text class="s" font-size="10" text-anchor="middle" fill="#1a1a1a" stroke="#1a1a1a" stroke-width="0.35" transform="translate(469.49 947.8) scale(0.72 1)">32</text>
<text class="s" font-size="10" text-anchor="middle" fill="#1a1a1a" stroke="#1a1a1a" stroke-width="0.35" transform="translate(484.4 947.8) scale(0.72 1)">34</text>
<text class="s" font-size="10" text-anchor="middle" fill="#1a1a1a" stroke="#1a1a1a" stroke-width="0.35" transform="translate(499.32 947.8) scale(0.72 1)">36</text>
<text class="s" font-size="10" text-anchor="middle" fill="#1a1a1a" stroke="#1a1a1a" stroke-width="0.35" transform="translate(514.23 947.8) scale(0.72 1)">38</text>
<line x1="51.8" y1="768.9" x2="514.3" y2="768.9" stroke="#7a6e6a" stroke-width="1.3"/>
<line x1="51.8" y1="810.45" x2="514.3" y2="810.45" stroke="#7a6e6a" stroke-width="1.3"/>
<line x1="51.8" y1="852" x2="514.3" y2="852" stroke="#7a6e6a" stroke-width="1.3"/>
<line x1="51.8" y1="893.55" x2="514.3" y2="893.55" stroke="#7a6e6a" stroke-width="1.3"/>
<line x1="51.8" y1="976.65" x2="514.3" y2="976.65" stroke="#7a6e6a" stroke-width="1.3"/>
<path d="M51.8 727.3H514.3" stroke="#807878" stroke-width="1.6" fill="none"/>
<path d="M514.3 727.3V1018.6" stroke="#555050" stroke-width="1.3" fill="none"/>
<path d="M51.8 726.5V1018.6H514.9" stroke="#464242" stroke-width="1.6" fill="none"/>
<line x1="231.2" y1="727.3" x2="231.2" y2="1018.6" stroke="#6e6868" stroke-width="1.2"/>
<line x1="51.8" y1="935.1" x2="514.3" y2="935.1" stroke="#6e6868" stroke-width="1.2"/>
<line x1="52.26" y1="935.1" x2="52.26" y2="937.6" stroke="#6e6868" stroke-width="1"/>
<line x1="67.17" y1="935.1" x2="67.17" y2="937.6" stroke="#6e6868" stroke-width="1"/>
<line x1="82.08" y1="935.1" x2="82.08" y2="937.6" stroke="#6e6868" stroke-width="1"/>
<line x1="96.99" y1="935.1" x2="96.99" y2="937.6" stroke="#6e6868" stroke-width="1"/>
<line x1="111.9" y1="935.1" x2="111.9" y2="937.6" stroke="#6e6868" stroke-width="1"/>
<line x1="126.82" y1="935.1" x2="126.82" y2="937.6" stroke="#6e6868" stroke-width="1"/>
<line x1="141.73" y1="935.1" x2="141.73" y2="937.6" stroke="#6e6868" stroke-width="1"/>
<line x1="156.64" y1="935.1" x2="156.64" y2="937.6" stroke="#6e6868" stroke-width="1"/>
<line x1="171.55" y1="935.1" x2="171.55" y2="937.6" stroke="#6e6868" stroke-width="1"/>
<line x1="186.46" y1="935.1" x2="186.46" y2="937.6" stroke="#6e6868" stroke-width="1"/>
<line x1="201.38" y1="935.1" x2="201.38" y2="937.6" stroke="#6e6868" stroke-width="1"/>
<line x1="216.29" y1="935.1" x2="216.29" y2="937.6" stroke="#6e6868" stroke-width="1"/>
<line x1="231.2" y1="935.1" x2="231.2" y2="937.6" stroke="#6e6868" stroke-width="1"/>
<line x1="246.11" y1="935.1" x2="246.11" y2="937.6" stroke="#6e6868" stroke-width="1"/>
<line x1="261.02" y1="935.1" x2="261.02" y2="937.6" stroke="#6e6868" stroke-width="1"/>
<line x1="275.94" y1="935.1" x2="275.94" y2="937.6" stroke="#6e6868" stroke-width="1"/>
<line x1="290.85" y1="935.1" x2="290.85" y2="937.6" stroke="#6e6868" stroke-width="1"/>
<line x1="305.76" y1="935.1" x2="305.76" y2="937.6" stroke="#6e6868" stroke-width="1"/>
<line x1="320.67" y1="935.1" x2="320.67" y2="937.6" stroke="#6e6868" stroke-width="1"/>
<line x1="335.58" y1="935.1" x2="335.58" y2="937.6" stroke="#6e6868" stroke-width="1"/>
<line x1="350.5" y1="935.1" x2="350.5" y2="937.6" stroke="#6e6868" stroke-width="1"/>
<line x1="365.41" y1="935.1" x2="365.41" y2="937.6" stroke="#6e6868" stroke-width="1"/>
<line x1="380.32" y1="935.1" x2="380.32" y2="937.6" stroke="#6e6868" stroke-width="1"/>
<line x1="395.23" y1="935.1" x2="395.23" y2="937.6" stroke="#6e6868" stroke-width="1"/>
<line x1="410.14" y1="935.1" x2="410.14" y2="937.6" stroke="#6e6868" stroke-width="1"/>
<line x1="425.06" y1="935.1" x2="425.06" y2="937.6" stroke="#6e6868" stroke-width="1"/>
<line x1="439.97" y1="935.1" x2="439.97" y2="937.6" stroke="#6e6868" stroke-width="1"/>
<line x1="454.88" y1="935.1" x2="454.88" y2="937.6" stroke="#6e6868" stroke-width="1"/>
<line x1="469.79" y1="935.1" x2="469.79" y2="937.6" stroke="#6e6868" stroke-width="1"/>
<line x1="484.7" y1="935.1" x2="484.7" y2="937.6" stroke="#6e6868" stroke-width="1"/>
<line x1="499.62" y1="935.1" x2="499.62" y2="937.6" stroke="#6e6868" stroke-width="1"/>
<line x1="514.53" y1="935.1" x2="514.53" y2="937.6" stroke="#6e6868" stroke-width="1"/>
<line x1="228.2" y1="727.35" x2="231.2" y2="727.35" stroke="#6e6868" stroke-width="1"/>
<line x1="228.2" y1="768.9" x2="231.2" y2="768.9" stroke="#6e6868" stroke-width="1"/>
<line x1="228.2" y1="810.45" x2="231.2" y2="810.45" stroke="#6e6868" stroke-width="1"/>
<line x1="228.2" y1="852" x2="231.2" y2="852" stroke="#6e6868" stroke-width="1"/>
<line x1="228.2" y1="893.55" x2="231.2" y2="893.55" stroke="#6e6868" stroke-width="1"/>
<line x1="228.2" y1="935.1" x2="231.2" y2="935.1" stroke="#6e6868" stroke-width="1"/>
<line x1="228.2" y1="976.65" x2="231.2" y2="976.65" stroke="#6e6868" stroke-width="1"/>
<line x1="228.2" y1="1018.2" x2="231.2" y2="1018.2" stroke="#6e6868" stroke-width="1"/>

<path d="M49.27 932.61 L164.1 932.61" fill="none" stroke="#f0902a" stroke-width="2.2"/>
<path d="M161.1 929.61L167.1 935.61M167.1 929.61L161.1 935.61" stroke="#d8a878" stroke-width="1.1" fill="none"/><path d="M235.66 937.09L241.66 943.09M241.66 937.09L235.66 943.09" stroke="#d8a878" stroke-width="1.1" fill="none"/><path d="M243.11 947.06L249.11 953.06M249.11 947.06L243.11 953.06" stroke="#d8a878" stroke-width="1.1" fill="none"/><path d="M258.02 912.99L264.02 918.99M264.02 912.99L258.02 918.99" stroke="#d8a878" stroke-width="1.1" fill="none"/><path d="M272.94 870.61L278.94 876.61M278.94 870.61L272.94 876.61" stroke="#d8a878" stroke-width="1.1" fill="none"/><path d="M287.85 863.13L293.85 869.13M293.85 863.13L287.85 869.13" stroke="#d8a878" stroke-width="1.1" fill="none"/><path d="M310.22 815.76L316.22 821.76M316.22 815.76L310.22 821.76" stroke="#d8a878" stroke-width="1.1" fill="none"/><path d="M332.58 869.77L338.58 875.77M338.58 869.77L332.58 875.77" stroke="#d8a878" stroke-width="1.1" fill="none"/><path d="M354.95 929.61L360.95 935.61M360.95 929.61L354.95 935.61" stroke="#d8a878" stroke-width="1.1" fill="none"/><path d="M377.32 929.61L383.32 935.61M383.32 929.61L377.32 935.61" stroke="#d8a878" stroke-width="1.1" fill="none"/><path d="M407.14 947.06L413.14 953.06M413.14 947.06L407.14 953.06" stroke="#d8a878" stroke-width="1.1" fill="none"/><path d="M429.51 947.06L435.51 953.06M435.51 947.06L429.51 953.06" stroke="#d8a878" stroke-width="1.1" fill="none"/><path d="M459.34 928.78L465.34 934.78M465.34 928.78L459.34 934.78" stroke="#d8a878" stroke-width="1.1" fill="none"/><path d="M481.7 947.06L487.7 953.06M487.7 947.06L481.7 953.06" stroke="#d8a878" stroke-width="1.1" fill="none"/>
<path d="M126.82 926.79 L164.1 935.1 L231.2 945.07 L246.11 911.83 L261.02 827.07 L275.94 827.07 L290.85 785.52 L313.22 818.76 L350.5 926.79 L395.23 918.48 L417.6 910.17 L447.42 910.17 L469.79 918.48 L484.7 926.79" fill="none" stroke="#c89090" stroke-width="1.0" stroke-linejoin="round"/><path d="M126.82 923.71L129.62 928.89L124.02 928.89Z" fill="#9a1838"/><path d="M164.1 932.02L166.9 937.2L161.3 937.2Z" fill="#9a1838"/><path d="M231.2 941.99L234 947.17L228.4 947.17Z" fill="#9a1838"/><path d="M246.11 908.75L248.91 913.93L243.31 913.93Z" fill="#9a1838"/><path d="M261.02 823.99L263.82 829.17L258.22 829.17Z" fill="#9a1838"/><path d="M275.94 823.99L278.74 829.17L273.14 829.17Z" fill="#9a1838"/><path d="M290.85 782.44L293.65 787.62L288.05 787.62Z" fill="#9a1838"/><path d="M313.22 815.68L316.02 820.86L310.42 820.86Z" fill="#9a1838"/><path d="M350.5 923.71L353.3 928.89L347.7 928.89Z" fill="#9a1838"/><path d="M395.23 915.4L398.03 920.58L392.43 920.58Z" fill="#9a1838"/><path d="M417.6 907.09L420.4 912.27L414.8 912.27Z" fill="#9a1838"/><path d="M447.42 907.09L450.22 912.27L444.62 912.27Z" fill="#9a1838"/><path d="M469.79 915.4L472.59 920.58L466.99 920.58Z" fill="#9a1838"/><path d="M484.7 923.71L487.5 928.89L481.9 928.89Z" fill="#9a1838"/>
<path d="M89.54 976.65 L164.1 935.1 L231.2 893.55 L238.66 910.17 L246.11 893.55 L261.02 810.45 L275.94 893.55 L305.76 810.45 L320.67 810.45 L335.58 893.55 L357.95 901.86 L380.32 893.55 L402.69 893.55 L432.51 893.55 L454.88 893.55 L469.79 893.55" fill="none" stroke="#d82030" stroke-width="1.7" stroke-linejoin="round"/><rect x="86.54" y="973.65" width="6" height="6" fill="#e8102a"/><rect x="161.1" y="932.1" width="6" height="6" fill="#e8102a"/><rect x="228.2" y="890.55" width="6" height="6" fill="#e8102a"/><rect x="235.66" y="907.17" width="6" height="6" fill="#e8102a"/><rect x="243.11" y="890.55" width="6" height="6" fill="#e8102a"/><rect x="258.02" y="807.45" width="6" height="6" fill="#e8102a"/><rect x="272.94" y="890.55" width="6" height="6" fill="#e8102a"/><rect x="302.76" y="807.45" width="6" height="6" fill="#e8102a"/><rect x="317.67" y="807.45" width="6" height="6" fill="#e8102a"/><rect x="332.58" y="890.55" width="6" height="6" fill="#e8102a"/><rect x="354.95" y="898.86" width="6" height="6" fill="#e8102a"/><rect x="377.32" y="890.55" width="6" height="6" fill="#e8102a"/><rect x="399.69" y="890.55" width="6" height="6" fill="#e8102a"/><rect x="429.51" y="890.55" width="6" height="6" fill="#e8102a"/><rect x="451.88" y="890.55" width="6" height="6" fill="#e8102a"/><rect x="466.79" y="890.55" width="6" height="6" fill="#e8102a"/>
<path d="M89.54 960.03 L164.1 969.17 L231.2 876.93 L238.66 926.79 L246.11 835.38 L261.02 777.21 L275.94 827.07 L305.76 793.83 L320.67 901.86 L335.58 876.93 L357.95 926.79 L380.32 876.93 L402.69 876.93 L432.51 876.93 L454.88 876.93 L469.79 876.93" fill="none" stroke="#1a1a3c" stroke-width="2.0" stroke-linejoin="round"/><path d="M89.54 957.23L92.34 960.03L89.54 962.83L86.74 960.03Z" fill="#101030"/><path d="M164.1 966.37L166.9 969.17L164.1 971.97L161.3 969.17Z" fill="#101030"/><path d="M231.2 874.13L234 876.93L231.2 879.73L228.4 876.93Z" fill="#101030"/><path d="M238.66 923.99L241.46 926.79L238.66 929.59L235.86 926.79Z" fill="#101030"/><path d="M246.11 832.58L248.91 835.38L246.11 838.18L243.31 835.38Z" fill="#101030"/><path d="M261.02 774.41L263.82 777.21L261.02 780.01L258.22 777.21Z" fill="#101030"/><path d="M275.94 824.27L278.74 827.07L275.94 829.87L273.14 827.07Z" fill="#101030"/><path d="M305.76 791.03L308.56 793.83L305.76 796.63L302.96 793.83Z" fill="#101030"/><path d="M320.67 899.06L323.47 901.86L320.67 904.66L317.87 901.86Z" fill="#101030"/><path d="M335.58 874.13L338.38 876.93L335.58 879.73L332.78 876.93Z" fill="#101030"/><path d="M357.95 923.99L360.75 926.79L357.95 929.59L355.15 926.79Z" fill="#101030"/><path d="M380.32 874.13L383.12 876.93L380.32 879.73L377.52 876.93Z" fill="#101030"/><path d="M402.69 874.13L405.49 876.93L402.69 879.73L399.89 876.93Z" fill="#101030"/><path d="M432.51 874.13L435.31 876.93L432.51 879.73L429.71 876.93Z" fill="#101030"/><path d="M454.88 874.13L457.68 876.93L454.88 879.73L452.08 876.93Z" fill="#101030"/><path d="M469.79 874.13L472.59 876.93L469.79 879.73L466.99 876.93Z" fill="#101030"/>
<rect x="52.5" y="728" width="154" height="70" fill="#fff" stroke="#6e6868" stroke-width="2"/>
<line x1="87.1" y1="737.5" x2="105.4" y2="737.5" stroke="#181848" stroke-width="2"/>
<path d="M95.8 734.5L98.8 737.5L95.8 740.5L92.8 737.5Z" fill="#101040"/>
<text class="s" x="110.3" y="742.1" font-size="12.7" fill="#222">Patient # H008</text>
<line x1="87.1" y1="754.7" x2="105.4" y2="754.7" stroke="#e01830" stroke-width="2"/>
<rect x="92.6" y="751.5" width="6.4" height="6.4" fill="#e01830"/>
<text class="s" x="110.3" y="759.3" font-size="12.7" fill="#222">Patient # H009</text>
<line x1="87.1" y1="771.9" x2="105.4" y2="771.9" stroke="#c88080" stroke-width="1"/>
<path d="M95.8 768.16L99.2 774.45L92.4 774.45Z" fill="#801838"/>
<text class="s" x="110.3" y="776.5" font-size="12.7" fill="#222">Patient # H010</text>
<line x1="87.1" y1="789.1" x2="105.4" y2="789.1" stroke="#f0902a" stroke-width="2"/>
<path d="M92.4 785.7L99.2 792.5M99.2 785.7L92.4 792.5" stroke="#e89040" stroke-width="1.1" fill="none"/>
<text class="s" x="110.3" y="793.7" font-size="12.7" fill="#222">Patient # H012</text>
<text class="sb" x="2" y="718.6" font-size="25" fill="#000">C</text>
<text class="sb" font-size="15.8" fill="#000" transform="translate(13.8 944.5) rotate(-90)">Reticulocyte count</text>
<text class="sb" font-size="16" fill="#000" transform="translate(32.4 972.3) rotate(-90)">change (– from baseline)</text>
<text class="sb" x="204.6" y="1043.6" font-size="15.9" fill="#000">Day of implantation</text>
</svg></body></html>
